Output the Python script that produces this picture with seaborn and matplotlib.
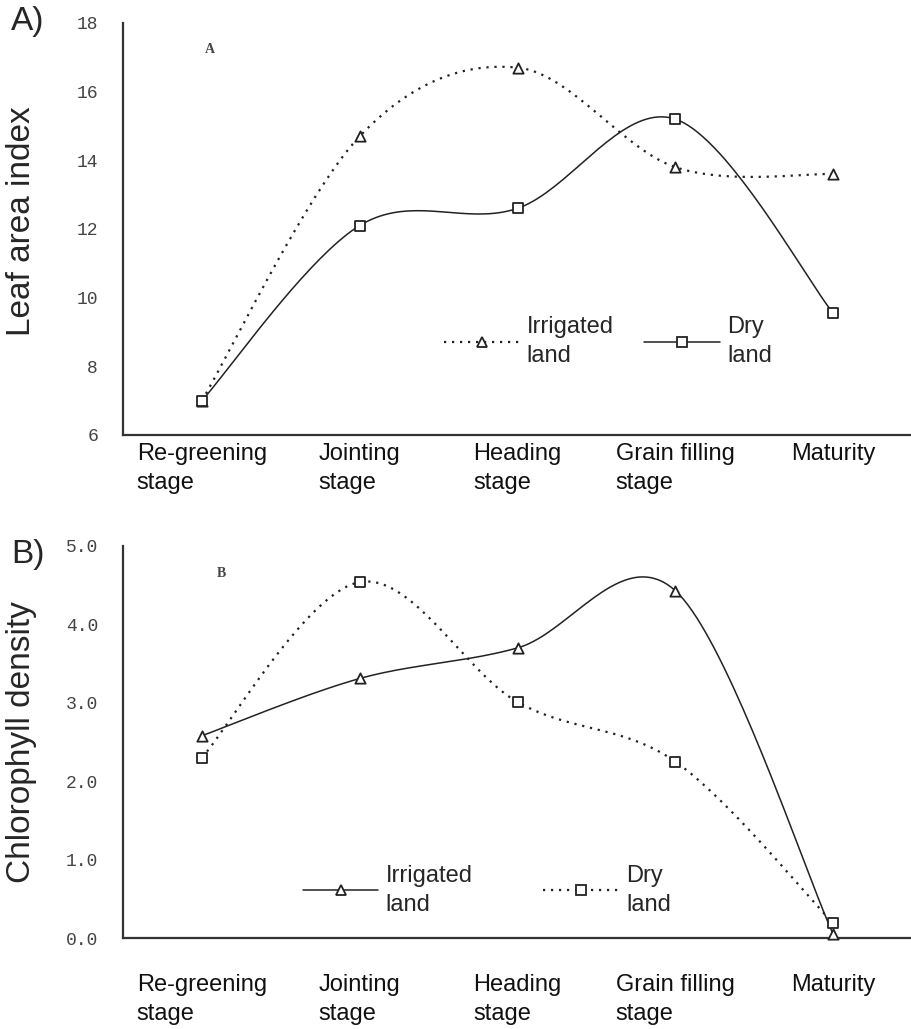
import numpy as np
import matplotlib
matplotlib.use('Agg')
import matplotlib.pyplot as plt
import seaborn as sns
from matplotlib.lines import Line2D

# growth stages on the x axis
stages = ['Re-greening\nstage', 'Jointing\nstage', 'Heading\nstage',
          'Grain filling\nstage', 'Maturity']

# panel A: leaf area index
lai_irrigated = [7.0, 14.7, 16.7, 13.8, 13.6]
lai_dry = [7.0, 12.1, 12.6, 15.2, 9.55]

# panel B: chlorophyll density
chl_irrigated = [2.58, 3.31, 3.70, 4.43, 0.05]
chl_dry = [2.30, 4.54, 3.01, 2.25, 0.19]

INK = '#222222'
DOTS = (0, (1, 2.6))


def smooth(vals, n=40):
    # excel-like smoothed line through the points (bezier, catmull-rom tangents)
    p = np.column_stack([np.arange(len(vals)), vals]).astype(float)
    ext = np.vstack([p[0], p, p[-1]])
    t = np.linspace(0, 1, n)[:, None]
    out = []
    for i in range(len(p) - 1):
        p0, p1, p2, p3 = ext[i], ext[i + 1], ext[i + 2], ext[i + 3]
        b1 = p1 + (p2 - p0) / 6
        b2 = p2 - (p3 - p1) / 6
        seg = (1 - t) ** 3 * p1 + 3 * (1 - t) ** 2 * t * b1 + 3 * (1 - t) * t ** 2 * b2 + t ** 3 * p2
        out.append(seg if i == 0 else seg[1:])
    out = np.vstack(out)
    return out[:, 0], out[:, 1]


def draw_series(ax, vals, ls, marker, msize):
    cx, cy = smooth(vals)
    sns.lineplot(x=cx, y=cy, ax=ax, sort=False, estimator=None, color=INK,
                 linestyle=ls, linewidth=1.6 if ls == DOTS else 1.1)
    sns.scatterplot(x=list(range(len(vals))), y=vals, ax=ax, marker=marker, s=msize,
                    color='white', edgecolor=INK, linewidth=1.3, zorder=4, clip_on=False)


def style_axes(ax, ylim, yticks, fmt, xpad):
    ax.set_xlim(-0.5, 4.5)
    ax.set_ylim(*ylim)
    for s in ['top', 'right']:
        ax.spines[s].set_visible(False)
    for s in ['left', 'bottom']:
        ax.spines[s].set_color('#333333')
        ax.spines[s].set_linewidth(1.6)
    ax.set_xticks(range(5))
    ax.set_xticklabels(stages, fontsize=17, family=['Liberation Sans', 'DejaVu Sans'],
                       color='#111111', ma='left', linespacing=1.4)
    ax.set_xticks([0.5, 1.5, 2.5, 3.5], minor=True)
    ax.tick_params(axis='x', which='major', length=0, pad=xpad)
    ax.tick_params(axis='x', which='minor', direction='in', length=4, width=1.2, color='#333333')
    ax.set_yticks(yticks)
    ax.set_yticklabels([fmt.format(v) for v in yticks], fontsize=13,
                       family=['Liberation Mono', 'DejaVu Sans Mono'], color='#444444')
    ax.tick_params(axis='y', direction='in', length=4, width=1.2, color='#333333', pad=18)
    ax.set_xlabel('')


def add_legend(ax, styles, anchor, colspace):
    handles = [Line2D([], [], color=INK, linestyle=ls, linewidth=1.6 if ls == DOTS else 1.1,
                      marker=m, markersize=7, markerfacecolor='white',
                      markeredgecolor=INK, markeredgewidth=1.3) for ls, m in styles]
    leg = ax.legend(handles, ['Irrigated\nland', 'Dry\nland'], ncol=2, frameon=False,
                    fontsize=17, loc='center left', bbox_to_anchor=anchor, borderpad=0,
                    borderaxespad=0, handlelength=3.2, handletextpad=0.3,
                    columnspacing=colspace)
    for t in leg.get_texts():
        t.set_linespacing(1.4)
    return leg


sns.set_style('white')
plt.rcParams['font.family'] = ['Liberation Sans', 'DejaVu Sans']

fig = plt.figure(figsize=(9.12, 10.29), dpi=100)
ax1 = fig.add_axes([0.1349, 0.5773, 0.8651, 0.4004])
ax2 = fig.add_axes([0.1349, 0.0884, 0.8651, 0.381])

# panel A
draw_series(ax1, lai_irrigated, DOTS, '^', 55)
draw_series(ax1, lai_dry, '-', 's', 55)
style_axes(ax1, (6, 18), [6, 8, 10, 12, 14, 16, 18], '{:d}', 6)
ax1.set_ylabel('Leaf area index', fontsize=24)
ax1.yaxis.set_label_coords(-0.109, 0.52)
ax1.text(0.11, 0.935, 'A', transform=ax1.transAxes, fontsize=10, fontweight='bold',
         family=['Liberation Serif', 'DejaVu Serif'], color='#444444', ha='center', va='center')
add_legend(ax1, [(DOTS, '^'), ('-', 's')], (0.407, 0.226), 1.3)

# panel B
draw_series(ax2, chl_irrigated, '-', '^', 55)
draw_series(ax2, chl_dry, DOTS, 's', 55)
style_axes(ax2, (0, 5), [0.0, 1.0, 2.0, 3.0, 4.0, 5.0], '{:.1f}', 26)
ax2.set_ylabel('Chlorophyll density', fontsize=24)
ax2.yaxis.set_label_coords(-0.109, 0.5)
ax2.text(0.125, 0.93, 'B', transform=ax2.transAxes, fontsize=10, fontweight='bold',
         family=['Liberation Serif', 'DejaVu Serif'], color='#444444', ha='center', va='center')
add_legend(ax2, [('-', '^'), (DOTS, 's')], (0.228, 0.122), 3.0)

fig.text(0.012, 0.994, 'A)', fontsize=24, va='top', ha='left')
fig.text(0.012, 0.476, 'B)', fontsize=24, va='top', ha='left')

fig.savefig('out.png', dpi=100)
